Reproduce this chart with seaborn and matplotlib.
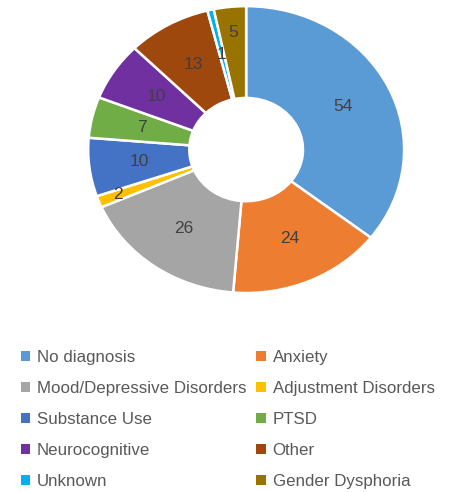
import matplotlib
matplotlib.use("Agg")
import matplotlib.pyplot as plt
import seaborn as sns
import numpy as np

# data (clockwise from 12 o'clock)
categories = ["No diagnosis", "Anxiety", "Mood/Depressive Disorders", "Adjustment Disorders",
              "Substance Use", "PTSD", "Neurocognitive", "Other", "Unknown", "Gender Dysphoria"]
counts = [54, 24, 26, 2, 10, 7, 10, 13, 1, 5]
colors = ["#5B9BD5", "#ED7D31", "#A5A5A5", "#FFC000", "#4472C4",
          "#70AD47", "#7030A0", "#9E480E", "#00B0F0", "#997300"]

sns.set_theme(style="white")
plt.rcParams['font.family'] = ['Liberation Sans', 'DejaVu Sans']

fig = plt.figure(figsize=(4.5, 4.92), dpi=100)
# the reference donut is slightly stretched sideways, so no equal aspect
ax = fig.add_axes([0.196, 0.4045, 0.702, 0.583])

ring = 0.64
wedges, _ = ax.pie(counts, colors=colors, startangle=90, counterclock=False,
                   radius=1.0, wedgeprops=dict(width=ring, edgecolor="white", linewidth=1.8))
ax.set_xlim(-1.0, 1.0)
ax.set_ylim(-1.0, 1.0)
ax.set_aspect("auto")

# value labels in the middle of each ring segment (tiny ones pushed outward)
mid_r = 1.0 - ring / 2
push = {"Adjustment Disorders": 0.87, "Gender Dysphoria": 0.82}
for w, v, name in zip(wedges, counts, categories):
    ang = np.deg2rad((w.theta1 + w.theta2) / 2)
    r = push.get(name, mid_r)
    ax.text(r * np.cos(ang), r * np.sin(ang), str(v),
            ha="center", va="center", fontsize=12.5, color="#404040")

# legend is row-major in the reference, matplotlib fills columns first
order = list(range(0, 10, 2)) + list(range(1, 10, 2))
leg = fig.legend([wedges[i] for i in order], [categories[i] for i in order],
                 ncol=2, loc="upper left", bbox_to_anchor=(0.012, 0.32),
                 frameon=False, fontsize=12.2, handlelength=0.55, handleheight=0.55,
                 handletextpad=0.4, columnspacing=0.6, labelspacing=0.95,
                 labelcolor="#595959")
for h in leg.legend_handles:
    h.set_edgecolor("none")

fig.savefig("out.png", dpi=100, facecolor="white")
